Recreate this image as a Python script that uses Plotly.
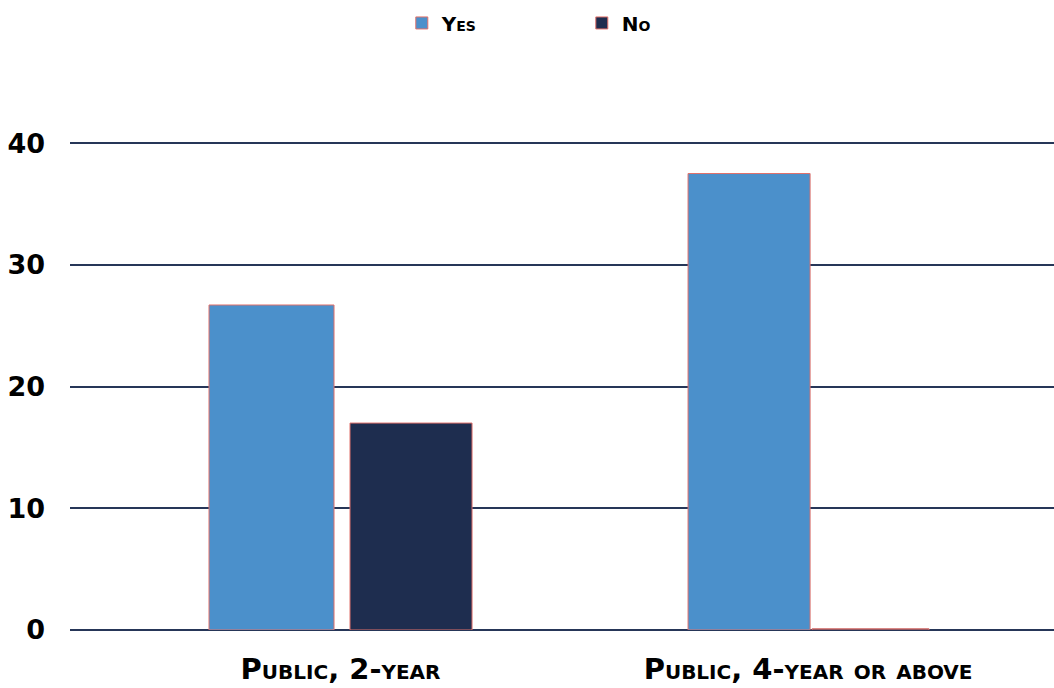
import plotly.graph_objects as go

# Share of respondents by institution type
categories = ["Public, 2-year", "Public, 4-year or above"]
yes_values = [26.7, 37.5]
no_values = [17.0, 0.1]
y_ticks = [0, 10, 20, 30, 40]

FONT = "DejaVu Sans"
GRID = "#263658"
EDGE = "#e0706a"

fig = go.Figure()
fig.add_trace(go.Bar(
    name="Yes", x=categories, y=yes_values,
    offset=[-0.2813, -0.2567], width=[0.2674, 0.261],
    marker=dict(color="#4b90cb", line=dict(color=EDGE, width=1)),
))
fig.add_trace(go.Bar(
    name="No", x=categories, y=no_values,
    offset=[0.0203, 0.0086], width=[0.261, 0.25],
    marker=dict(color="#1e2d4f", line=dict(color=EDGE, width=1)),
))

fig.update_layout(
    width=1054, height=688,
    margin=dict(l=70, r=0, t=137, b=58),
    paper_bgcolor="white", plot_bgcolor="white",
    barmode="overlay",
    showlegend=True,
    legend=dict(
        orientation="h", xref="container", yref="container",
        x=0.552, xanchor="center", y=0.995, yanchor="top",
        font=dict(family=FONT, size=20, color="black", weight="bold", variant="small-caps"),
        entrywidth=135, entrywidthmode="pixels",
        traceorder="normal",
    ),
    xaxis=dict(
        type="category", range=[-0.5786, 1.526],
        showgrid=False, showline=False, ticks="", ticklabelstandoff=19,
        tickfont=dict(family=FONT, size=29, color="black", weight="bold", variant="small-caps"),
    ),
    yaxis=dict(
        range=[0, 40.5], tickvals=y_ticks,
        showgrid=True, gridcolor=GRID, gridwidth=2,
        zeroline=True, zerolinecolor=GRID, zerolinewidth=2,
        showline=False, ticks="", ticklabelstandoff=24,
        tickfont=dict(family=FONT, size=27, color="black", weight="bold"),
    ),
)

fig.write_html("out.html")
